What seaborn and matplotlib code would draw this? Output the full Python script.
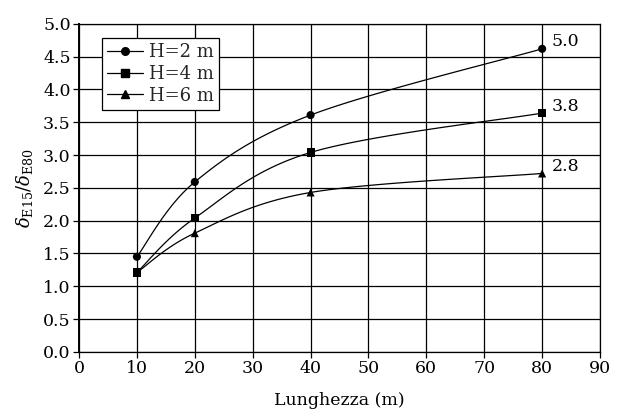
import numpy as np
import pandas as pd
import matplotlib
matplotlib.use("Agg")
import matplotlib.pyplot as plt
from matplotlib.lines import Line2D
import seaborn as sns

# Data
lunghezza = [10, 20, 40, 80]
h2 = [1.45, 2.59, 3.61, 4.62]
h4 = [1.21, 2.04, 3.04, 3.64]
h6 = [1.21, 1.81, 2.43, 2.72]
series_names = ["H=2 m", "H=4 m", "H=6 m"]
end_labels = ["5.0", "3.8", "2.8"]
x_ticks = list(range(0, 91, 10))
y_ticks = [0.0, 0.5, 1.0, 1.5, 2.0, 2.5, 3.0, 3.5, 4.0, 4.5, 5.0]

df = pd.DataFrame({
    "L": lunghezza * 3,
    "ratio": h2 + h4 + h6,
    "serie": sum([[n] * len(lunghezza) for n in series_names], []),
})

sns.set_theme(style="white")
plt.rcParams["font.family"] = ["DejaVu Serif"]
plt.rcParams["mathtext.fontset"] = "dejavuserif"

fig = plt.figure(figsize=(6.27, 4.12), dpi=100)
ax = fig.add_axes([0.126, 0.146, 0.831, 0.796])

ax.set_xlim(0, 90)
ax.set_ylim(0, 5.0)


def smooth(xs, ys, xr=90.0, yr=5.0, n=40):
    """Bezier smoothing through the points (computed in normalised axes space)."""
    p = np.column_stack([np.asarray(xs) / xr, np.asarray(ys) / yr * 0.63])
    out = []
    for i in range(len(p) - 1):
        p0 = p[i - 1] if i > 0 else p[i]
        p3 = p[i + 2] if i + 2 < len(p) else p[i + 1]
        c1 = p[i] + (p[i + 1] - p0) / 6.0
        c2 = p[i + 1] - (p3 - p[i]) / 6.0
        t = np.linspace(0, 1, n)[:, None]
        seg = ((1 - t) ** 3) * p[i] + 3 * ((1 - t) ** 2) * t * c1 \
            + 3 * (1 - t) * t ** 2 * c2 + t ** 3 * p[i + 1]
        out.append(seg)
    s = np.vstack(out)
    return s[:, 0] * xr, s[:, 1] / 0.63 * yr


markers = {"H=2 m": "o", "H=4 m": "s", "H=6 m": "^"}
for name, ys in zip(series_names, [h2, h4, h6]):
    sx, sy = smooth(lunghezza, ys)
    ax.plot(sx, sy, color="black", lw=0.9, zorder=3)

sns.scatterplot(data=df, x="L", y="ratio", style="serie", markers=markers,
                color="black", s=34, edgecolor="black", linewidth=0,
                legend=False, ax=ax, zorder=4)

for ys, lab in zip([h2, h4, h6], end_labels):
    ax.annotate(lab, xy=(lunghezza[-1], ys[-1]), xytext=(7, 5),
                textcoords="offset points", fontsize=12.5, color="black",
                ha="left", va="center")

ax.set_xticks(x_ticks)
ax.set_yticks(y_ticks)
ax.set_yticklabels([f"{v:.1f}" for v in y_ticks])
ax.grid(True, color="black", lw=0.9)
ax.set_axisbelow(True)
for sp in ax.spines.values():
    sp.set_color("black")
    sp.set_linewidth(0.9)
ax.spines["left"].set_linewidth(1.4)
ax.tick_params(axis="both", which="major", direction="out", length=4,
               width=0.9, color="black", labelsize=12.5, labelcolor="black",
               pad=2, bottom=True, left=True)

ax.set_xlabel("Lunghezza (m)", fontsize=12.5, color="black", labelpad=11)
ax.set_ylabel(r"$\delta_{\mathrm{E15}}/\delta_{\mathrm{E80}}$", fontsize=13,
              color="black", labelpad=6)

handles = [Line2D([0], [0], color="black", lw=0.9, marker=markers[n],
                  markersize=5.5, markerfacecolor="black",
                  markeredgecolor="black") for n in series_names]
leg = ax.legend(handles, series_names, loc="upper left",
                bbox_to_anchor=(0.044, 0.957), fontsize=13, frameon=True,
                fancybox=False, framealpha=1, edgecolor="black",
                handlelength=2.0, handletextpad=0.3, borderpad=0.3,
                labelspacing=0.2, borderaxespad=0)
leg.get_frame().set_linewidth(0.9)

fig.savefig("out.png", dpi=100, facecolor="white")
